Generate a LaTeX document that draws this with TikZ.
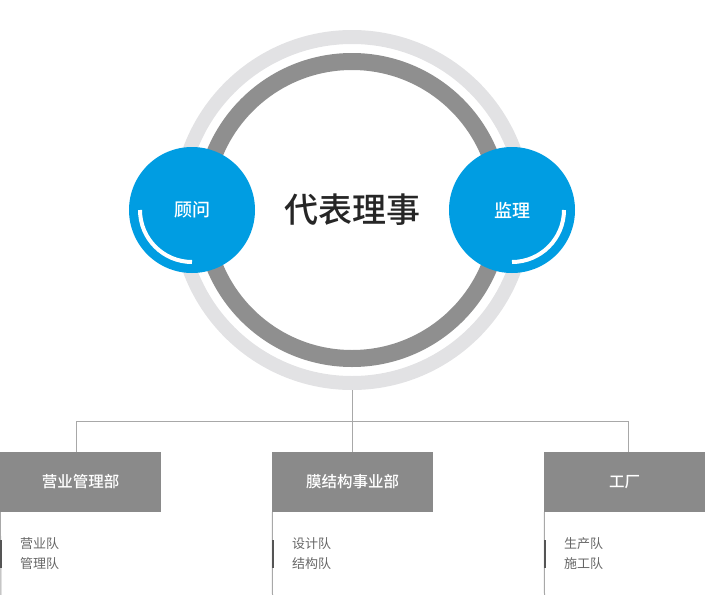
\documentclass[tikz,border=0pt]{standalone}
\usepackage{fontspec}
\setmainfont{Noto Sans CJK SC}
\newfontfamily\medfont{Noto Sans CJK SC Medium}
\definecolor{ringlight}{HTML}{E2E2E4}
\definecolor{ringdark}{HTML}{8F8F8F}
\definecolor{blueC}{HTML}{009DE2}
\definecolor{boxgray}{HTML}{8A8A8A}
\definecolor{linegray}{HTML}{A8A8A8}
\definecolor{subtext}{HTML}{666666}
\definecolor{markgray}{HTML}{555555}
\begin{document}
\begin{tikzpicture}[x=1pt,y=-1pt,
  bluecircle/.style={circle,fill=blueC,minimum size=126pt,inner sep=0pt,text=white,font=\fontsize{18}{20}\selectfont\medfont},
  deptbox/.style={rectangle,fill=boxgray,minimum width=161pt,minimum height=60pt,inner sep=0pt,text=white,font=\fontsize{15.5}{18}\selectfont\medfont},
  conn/.style={draw=linegray,line width=0.9pt},
  subline/.style={draw=linegray,line width=1pt},
  sidemark/.style={draw=markgray,line width=2pt},
  subitem/.style={anchor=west,inner sep=0pt,text=subtext,font=\fontsize{13}{15}\selectfont},
  whitearc/.style={draw=white,line width=4pt}]
\useasboundingbox (0,0) rectangle (705,595);
% rings
\draw[ringlight,line width=14pt] (352,210) circle (173);
\draw[ringdark,line width=17pt] (352,210) circle (148.5);
\node[circle,minimum size=360pt,inner sep=0pt] (core) at (352,210) {};
\node[font=\fontsize{34}{38}\selectfont\medfont,text=black!85] (title) at (352,210) {代表理事};
% blue circles
\node[bluecircle] (gw) at (192,210) {顾问};
\node[bluecircle] (jl) at (512,210) {监理};
\draw[whitearc] (192,210) ++(180:52) arc[start angle=180,end angle=90,radius=52];
\draw[whitearc] (512,210) ++(0:52) arc[start angle=0,end angle=90,radius=52];
% departments
\node[deptbox] (d1) at (80.5,482) {营业管理部};
\node[deptbox] (d2) at (352.5,482) {膜结构事业部};
\node[deptbox] (d3) at (624.5,482) {工厂};
\coordinate (hub) at (352,421);
\draw[conn] (core.south) -- (hub);
\draw[conn] (hub) -| ([xshift=-4.5pt]d1.north);
\draw[conn] (hub) -| (d2.north);
\draw[conn] (hub) -| ([xshift=4pt]d3.north);
% sub lines
\coordinate (e1) at (1,595);
\coordinate (e2) at (272.5,595);
\coordinate (e3) at (544.5,595);
\draw[subline] ([xshift=0.5pt]d1.south west) -- (e1);
\draw[subline] ([xshift=0.5pt]d2.south west) -- (e2);
\draw[subline] ([xshift=0.5pt]d3.south west) -- (e3);
\coordinate (m1a) at (1,540); \coordinate (m1b) at (1,568);
\coordinate (m2a) at (273,540); \coordinate (m2b) at (273,568);
\coordinate (m3a) at (545,540); \coordinate (m3b) at (545,568);
\draw[sidemark] (m1a) -- (m1b);
\draw[sidemark] (m2a) -- (m2b);
\draw[sidemark] (m3a) -- (m3b);
% sub items
\node[subitem] (s11) at (20,544) {营业队};
\node[subitem] (s12) at (20,564) {管理队};
\node[subitem] (s21) at (292,544) {设计队};
\node[subitem] (s22) at (292,564) {结构队};
\node[subitem] (s31) at (564,544) {生产队};
\node[subitem] (s32) at (564,564) {施工队};
\end{tikzpicture}
\end{document}
